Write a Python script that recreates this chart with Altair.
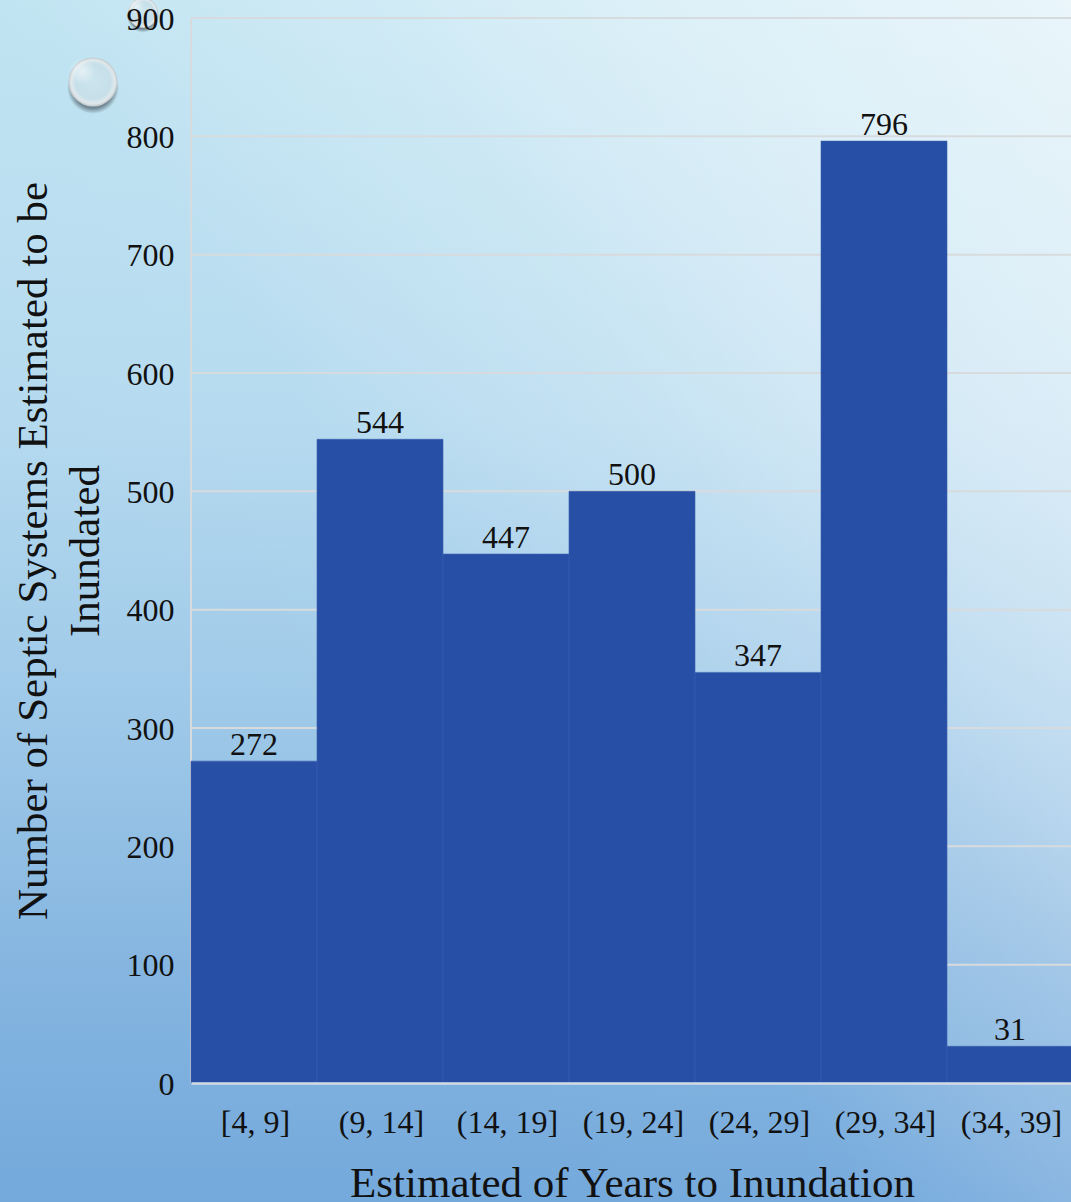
import altair as alt
import pandas as pd

bins = ["[4, 9]", "(9, 14]", "(14, 19]", "(19, 24]", "(24, 29]", "(29, 34]", "(34, 39]"]
counts = [272, 544, 447, 500, 347, 796, 31]
y_ticks = [0, 100, 200, 300, 400, 500, 600, 700, 800, 900]

SERIF = "Liberation Serif"
table = pd.DataFrame({"bin": bins, "count": counts})
grid_table = pd.DataFrame({"tick": y_ticks[1:]})
one = pd.DataFrame({"k": [0]})

x_enc = alt.X(
    "bin:N",
    sort=bins,
    # the last column runs just past the right edge of the page
    scale=alt.Scale(paddingInner=0, paddingOuter=0, range=[0, 882]),
    axis=alt.Axis(
        title="Estimated of Years to Inundation",
        titleX=441,
        labelAngle=0,
        labelFontSize=32,
        labelPadding=24,
        labelOffset=1.5,
        titleFontSize=43,
        titlePadding=24,
        tickSize=0,
        domainColor="#D3DCE6",
        domainWidth=2.5,
        zindex=1,
    ),
)
y_scale = alt.Scale(domain=[0, 900], nice=False)
y_axis = alt.Axis(
    title=["Number of Septic Systems Estimated to be", "Inundated"],
    values=y_ticks,
    labelFontSize=32,
    labelPadding=17,
    labelOffset=1,
    titleFontSize=43,
    titlePadding=19,
    titleLineHeight=52,
    tickSize=0,
    grid=False,
    domain=False,
    zindex=1,
)

# Page backdrop: a vertical sky-blue ramp with a pale glow from the top right.
backdrop = alt.Chart(one).mark_rect(
    color=alt.LinearGradient(
        gradient="linear",
        x1=0, y1=0, x2=0, y2=1,
        stops=[
            alt.GradientStop(offset=0, color="#C0E4F2"),
            alt.GradientStop(offset=0.35, color="#B5DAEF"),
            alt.GradientStop(offset=0.6, color="#9DC8E8"),
            alt.GradientStop(offset=0.8, color="#86B6E0"),
            alt.GradientStop(offset=1, color="#74A9DC"),
        ],
    )
).encode(x=alt.value(-191), x2=alt.value(880), y=alt.value(-18), y2=alt.value(1184))

glow = alt.Chart(one).mark_rect(
    color=alt.LinearGradient(
        gradient="linear",
        x1=1, y1=0, x2=0, y2=0.8,
        stops=[
            alt.GradientStop(offset=0, color="rgba(255,255,255,0.65)"),
            alt.GradientStop(offset=0.21, color="rgba(255,255,255,0.48)"),
            alt.GradientStop(offset=0.32, color="rgba(255,255,255,0.36)"),
            alt.GradientStop(offset=0.4, color="rgba(255,255,255,0.24)"),
            alt.GradientStop(offset=0.49, color="rgba(255,255,255,0.15)"),
            alt.GradientStop(offset=0.6, color="rgba(255,255,255,0.02)"),
            alt.GradientStop(offset=0.8, color="rgba(255,255,255,0)"),
        ],
    )
).encode(x=alt.value(-191), x2=alt.value(880), y=alt.value(-18), y2=alt.value(1184))


def orb(cx, cy, size):
    """A glassy droplet: soft shadow, rim-shaded body and a small highlight."""
    d = size ** 0.5
    shadow = alt.Chart(one).mark_point(
        shape="circle", filled=True, strokeWidth=0,
        color=alt.RadialGradient(
            gradient="radial",
            stops=[
                alt.GradientStop(offset=0, color="rgba(40,50,60,0.85)"),
                alt.GradientStop(offset=0.78, color="rgba(40,50,60,0.75)"),
                alt.GradientStop(offset=1, color="rgba(40,50,60,0)"),
            ],
        ),
    ).encode(x=alt.value(cx), y=alt.value(cy + d * 0.12), size=alt.value(size * 1.12))
    body = alt.Chart(one).mark_point(
        shape="circle", filled=True, strokeWidth=0, opacity=1,
        color=alt.RadialGradient(
            gradient="radial",
            x1=0.5, y1=0.45, r1=0, x2=0.5, y2=0.5, r2=0.5,
            stops=[
                alt.GradientStop(offset=0, color="#CBE5EE"),
                alt.GradientStop(offset=0.72, color="#C6DFE9"),
                alt.GradientStop(offset=0.9, color="#E2E9EC"),
                alt.GradientStop(offset=1, color="#BCC4C8"),
            ],
        ),
    ).encode(x=alt.value(cx), y=alt.value(cy), size=alt.value(size))
    shine = alt.Chart(one).mark_point(
        shape="circle", filled=True, strokeWidth=0,
        color=alt.RadialGradient(
            gradient="radial",
            stops=[
                alt.GradientStop(offset=0, color="rgba(255,255,255,0.8)"),
                alt.GradientStop(offset=1, color="rgba(255,255,255,0)"),
            ],
        ),
    ).encode(x=alt.value(cx - d * 0.22), y=alt.value(cy - d * 0.22), size=alt.value(size * 0.3))
    return [shadow, body, shine]


orbs = orb(-98, 64, 2400) + orb(-48, -5, 900)

grid = alt.Chart(grid_table).mark_rule(color="#D8DBDD", strokeWidth=2).encode(
    y=alt.Y("tick:Q", scale=y_scale, axis=y_axis),
)
left_edge = alt.Chart(one).mark_rule(color="#D8DBDD", strokeWidth=2).encode(
    x=alt.value(0), y=alt.value(0), y2=alt.value(1065)
)

bars = alt.Chart(table).mark_bar(
    color="#264FA5", stroke="#3A60B0", strokeWidth=0.6
).encode(x=x_enc, y=alt.Y("count:Q", scale=y_scale))

labels = alt.Chart(table).mark_text(
    baseline="bottom", dy=1, fontSize=32, color="#111111"
).encode(x=alt.X("bin:N", sort=bins), y=alt.Y("count:Q", scale=y_scale), text="count:Q")

chart = alt.layer(backdrop, glow, *orbs, grid, left_edge, bars, labels).properties(
    width=880,
    height=1065,
    padding={"left": 191, "top": 18, "right": 0, "bottom": 119},
    autosize=alt.AutoSizeParams(type="none"),
    background="#A5CBE9",
).configure_view(stroke=None).configure_axis(
    labelFont=SERIF, titleFont=SERIF, labelColor="#111111", titleColor="#111111",
    titleFontWeight="normal",
).configure_text(font=SERIF)

chart.save("out.html", embed_options={"renderer": "svg", "actions": False})
